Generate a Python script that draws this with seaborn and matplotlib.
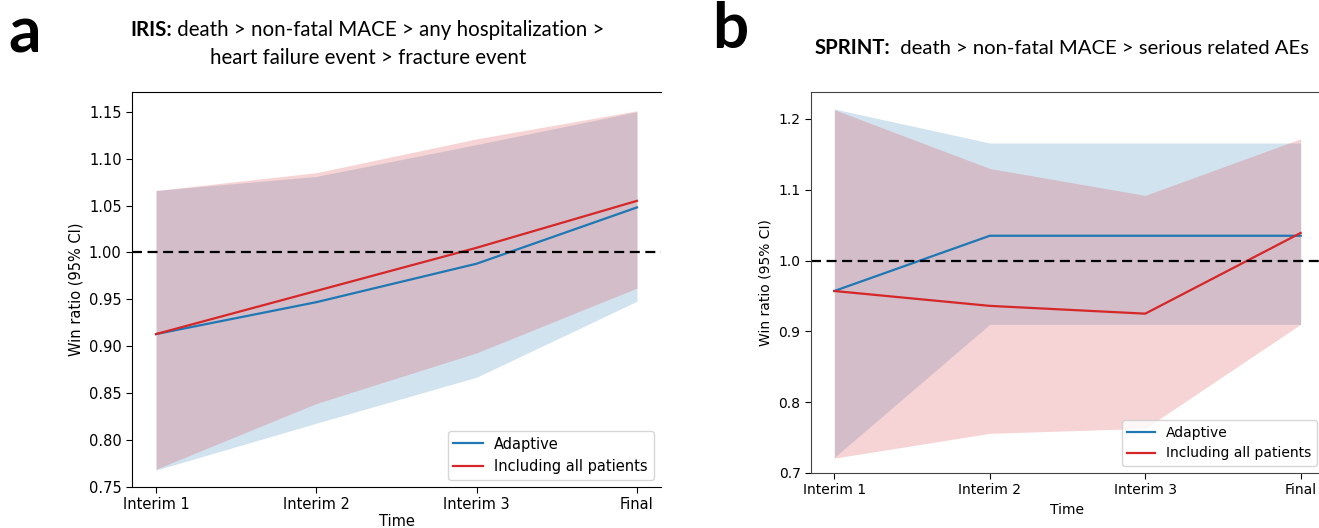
import numpy as np
import pandas as pd
import matplotlib
matplotlib.use("Agg")
import matplotlib.pyplot as plt
import seaborn as sns

# ---- data ----
time_labels = ["Interim 1", "Interim 2", "Interim 3", "Final"]

iris_adaptive = [0.913, 0.947, 0.988, 1.048]
iris_adaptive_lo = [0.768, 0.818, 0.867, 0.948]
iris_adaptive_hi = [1.066, 1.081, 1.115, 1.150]
iris_all = [0.913, 0.959, 1.005, 1.055]
iris_all_lo = [0.769, 0.839, 0.893, 0.962]
iris_all_hi = [1.066, 1.085, 1.121, 1.151]

sprint_adaptive = [0.957, 1.035, 1.035, 1.035]
sprint_adaptive_lo = [0.722, 0.910, 0.910, 0.910]
sprint_adaptive_hi = [1.214, 1.166, 1.166, 1.166]
sprint_all = [0.957, 0.936, 0.925, 1.039]
sprint_all_lo = [0.721, 0.756, 0.763, 0.910]
sprint_all_hi = [1.213, 1.130, 1.092, 1.172]

series_names = ["Adaptive", "Including all patients"]
colors = {"Adaptive": "#1f77b4", "Including all patients": "#d62728"}

W, H = 1319, 528
fig = plt.figure(figsize=(W / 100, H / 100), dpi=100)


def px_axes(left, top, right, bottom):
    return fig.add_axes([left / W, 1 - bottom / H, (right - left) / W, (bottom - top) / H])


def draw_panel(ax, est, lo, hi, fs, yticks, yfmt, ylim, spine_color, xlabelpad):
    x = np.arange(len(time_labels))
    rows = []
    for name, vals in zip(series_names, est):
        for xi, v in zip(x, vals):
            rows.append({"t": xi, "wr": v, "series": name})
    df = pd.DataFrame(rows)
    for name, l, h in zip(series_names, lo, hi):
        ax.fill_between(x, l, h, color=colors[name], alpha=0.2, linewidth=0)
    sns.lineplot(data=df, x="t", y="wr", hue="series", palette=colors,
                 hue_order=series_names, ax=ax, linewidth=1.6, legend=True)
    ax.axhline(1.0, color="black", linestyle="--", linewidth=1.6, dashes=(4.5, 2.5))
    ax.set_xlim(-0.15, 3.15)
    ax.set_ylim(*ylim)
    ax.set_xticks(x)
    ax.set_xticklabels(time_labels, fontsize=fs)
    ax.set_yticks(yticks)
    ax.set_yticklabels([yfmt.format(v) for v in yticks], fontsize=fs)
    ax.set_xlabel("Time", fontsize=fs, labelpad=xlabelpad)
    ax.set_ylabel("Win ratio (95% CI)", fontsize=fs)
    for s in ax.spines.values():
        s.set_color(spine_color)
    ax.tick_params(colors="black", length=4)
    ax.legend(loc="lower right", fontsize=fs, title=None, framealpha=0.8)


ax_a = px_axes(132, 92, 661, 487)
draw_panel(ax_a,
           [iris_adaptive, iris_all],
           [iris_adaptive_lo, iris_all_lo],
           [iris_adaptive_hi, iris_all_hi],
           10.5, [0.75, 0.80, 0.85, 0.90, 0.95, 1.00, 1.05, 1.10, 1.15], "{:.2f}",
           (0.75, 1.171), "black", 1.0)
ax_a.spines["right"].set_visible(False)

ax_b = px_axes(811, 92, 1324, 473)
draw_panel(ax_b,
           [sprint_adaptive, sprint_all],
           [sprint_adaptive_lo, sprint_all_lo],
           [sprint_adaptive_hi, sprint_all_hi],
           10.0, [0.7, 0.8, 0.9, 1.0, 1.1, 1.2], "{:.1f}",
           (0.7, 1.238), "#444444", 4.0)

# ---- titles ----
TF = "Lato"
fig.canvas.draw()
renderer = fig.canvas.get_renderer()


def mixed_title(cx, cy, bold, normal, size):
    tb = fig.text(0, cy, bold, fontsize=size, fontweight="bold", family=TF,
                  va="center", ha="left", transform=None)
    tn = fig.text(0, cy, normal, fontsize=size, family=TF, va="center", ha="left",
                  transform=None)
    wb = tb.get_window_extent(renderer).width
    wn = tn.get_window_extent(renderer).width
    start = cx - (wb + wn) / 2
    tb.set_position((start, H - cy))
    tn.set_position((start + wb, H - cy))


def plain_title(cx, cy, txt, size):
    fig.text(cx / W, 1 - cy / H, txt, fontsize=size, family=TF, va="center", ha="center")


mixed_title(367, 30, "IRIS:", " death > non-fatal MACE > any hospitalization >", 14.8)
plain_title(368, 58, "heart failure event > fracture event", 14.8)
mixed_title(1062, 48, "SPRINT:", "  death > non-fatal MACE > serious related AEs", 14.6)

fig.text(8 / W, 1 - 34 / H, "a", fontsize=46, fontweight="bold", family=TF, va="center", ha="left")
fig.text(712 / W, 1 - 30 / H, "b", fontsize=46, fontweight="bold", family=TF, va="center", ha="left")

fig.savefig("out.png", dpi=100)
